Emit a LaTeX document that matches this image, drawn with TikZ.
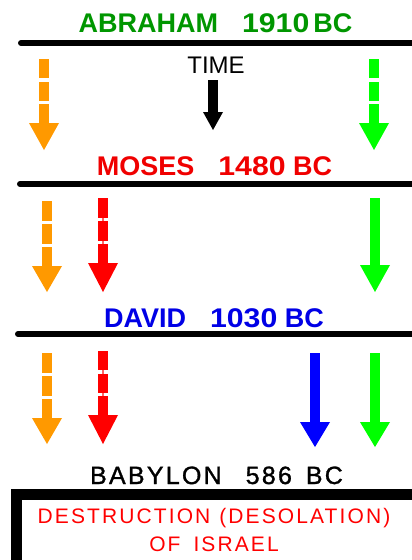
\documentclass[tikz,border=0pt]{standalone}
\usepackage{fontspec}
\setmainfont{Liberation Sans}
\newfontfamily\spacedfont[LetterSpace=10]{Liberation Sans}
\newfontfamily\heavyspacedfont[LetterSpace=9,FakeBold=1.2]{Liberation Sans}
\definecolor{abgreen}{RGB}{0,150,0}
\definecolor{mored}{RGB}{240,0,0}
\definecolor{dablue}{RGB}{0,0,230}
\definecolor{arrorange}{RGB}{255,153,0}
\definecolor{arrgreen}{RGB}{0,255,0}
\definecolor{arrred}{RGB}{255,0,0}
\definecolor{arrblue}{RGB}{0,0,255}
\tikzset{
  title/.style={anchor=base, inner sep=0pt, font=\fontsize{27}{27}\selectfont\bfseries},
  plain/.style={anchor=base, inner sep=0pt},
  timeline/.style={line width=6pt, line cap=round},
}
\newcommand\wide[1]{\scalebox{1.12}[1.0]{#1}}
% dashed fat arrow: color, x, top, head start, tip, number of segments
\newcommand\dasharrow[6]{%
  \pgfmathsetmacro\seglen{(#4-#3-(#6-1)*4)/#6}%
  \foreach \i in {1,...,#6} {%
    \pgfmathsetmacro\ya{#3+(\i-1)*(\seglen+4)}%
    \pgfmathsetmacro\yb{\ya+\seglen+0.5}%
    \fill[#1] ({#2-5},\ya) rectangle ({#2+5},\yb);
  }%
  \fill[#1] ({#2-15},#4) -- ({#2+15},#4) -- (#2,#5) -- cycle;
}
% red dashed arrow with thin link
\newcommand\reddasharrow[6]{%
  \draw[#1!60, line width=1.2pt] (#2,#3) -- (#2,#4);
  \dasharrow{#1}{#2}{#3}{#4}{#5}{#6}%
}
\newcommand\solidarrow[5]{%
  \fill[#1] ({#2-5},#3) rectangle ({#2+5},{#4+0.5});
  \fill[#1] ({#2-15},#4) -- ({#2+15},#4) -- (#2,#5) -- cycle;
}
\begin{document}
\begin{tikzpicture}[x=1pt, y=-1pt]
\useasboundingbox (0,0) rectangle (412,560);
\fill[white] (0,0) rectangle (412,560);

% titles
\node[title, text=abgreen] (abraham) at (215.5,32) {ABRAHAM\hspace{24pt}\wide{1910}\hspace{4pt}BC};
\node[title, text=mored] (moses) at (214.5,175) {MOSES\hspace{24pt}\wide{1480} BC};
\node[title, text=dablue] (david) at (214,327) {DAVID\hspace{24pt}\wide{1030} BC};

% timelines
\coordinate (l1a) at (21,43);  \coordinate (l1b) at (420,43);
\coordinate (l2a) at (20,184); \coordinate (l2b) at (420,184);
\coordinate (l3a) at (18,334); \coordinate (l3b) at (420,334);
\draw[timeline] (l1a) -- (l1b);
\draw[timeline] (l2a) -- (l2b);
\draw[timeline] (l3a) -- (l3b);

% TIME
\node[plain, font=\fontsize{24}{24}\selectfont] (time) at (216,73) {TIME};
\fill[black] (208,80) rectangle (218,112.5);
\fill[black] (203,112) -- (223,112) -- (213,130) -- cycle;

% section 1 arrows
\dasharrow{arrorange}{44}{59}{123}{150}{3}
\dasharrow{arrgreen}{374}{59}{123}{150}{3}

% section 2 arrows
\dasharrow{arrorange}{47}{201}{266}{292}{3}
\reddasharrow{arrred}{103}{198}{263}{292}{3}
\solidarrow{arrgreen}{375}{198}{265}{292}

% section 3 arrows
\dasharrow{arrorange}{47}{353}{418}{444}{3}
\reddasharrow{arrred}{103}{351}{415}{444}{3}
\solidarrow{arrblue}{315}{353}{422}{447}
\solidarrow{arrgreen}{375}{353}{422}{447}

% Babylon
\node[plain, font=\fontsize{25}{25}\selectfont\heavyspacedfont] (babylon) at (216.5,484) {BABYLON\hspace{24pt}586\hspace{14pt}BC};

% box
\fill[black] (11,489) rectangle (420,570);
\fill[white] (22,500) rectangle (420,570);
\node[plain, text=arrred, font=\fontsize{21}{21}\selectfont\spacedfont] (destr) at (214,523) {DESTRUCTION\hspace{9pt}(DESOLATION)};
\node[plain, text=arrred, font=\fontsize{21}{21}\selectfont\spacedfont] (israel) at (214,551) {OF\hspace{13pt}ISRAEL};
\end{tikzpicture}
\end{document}
